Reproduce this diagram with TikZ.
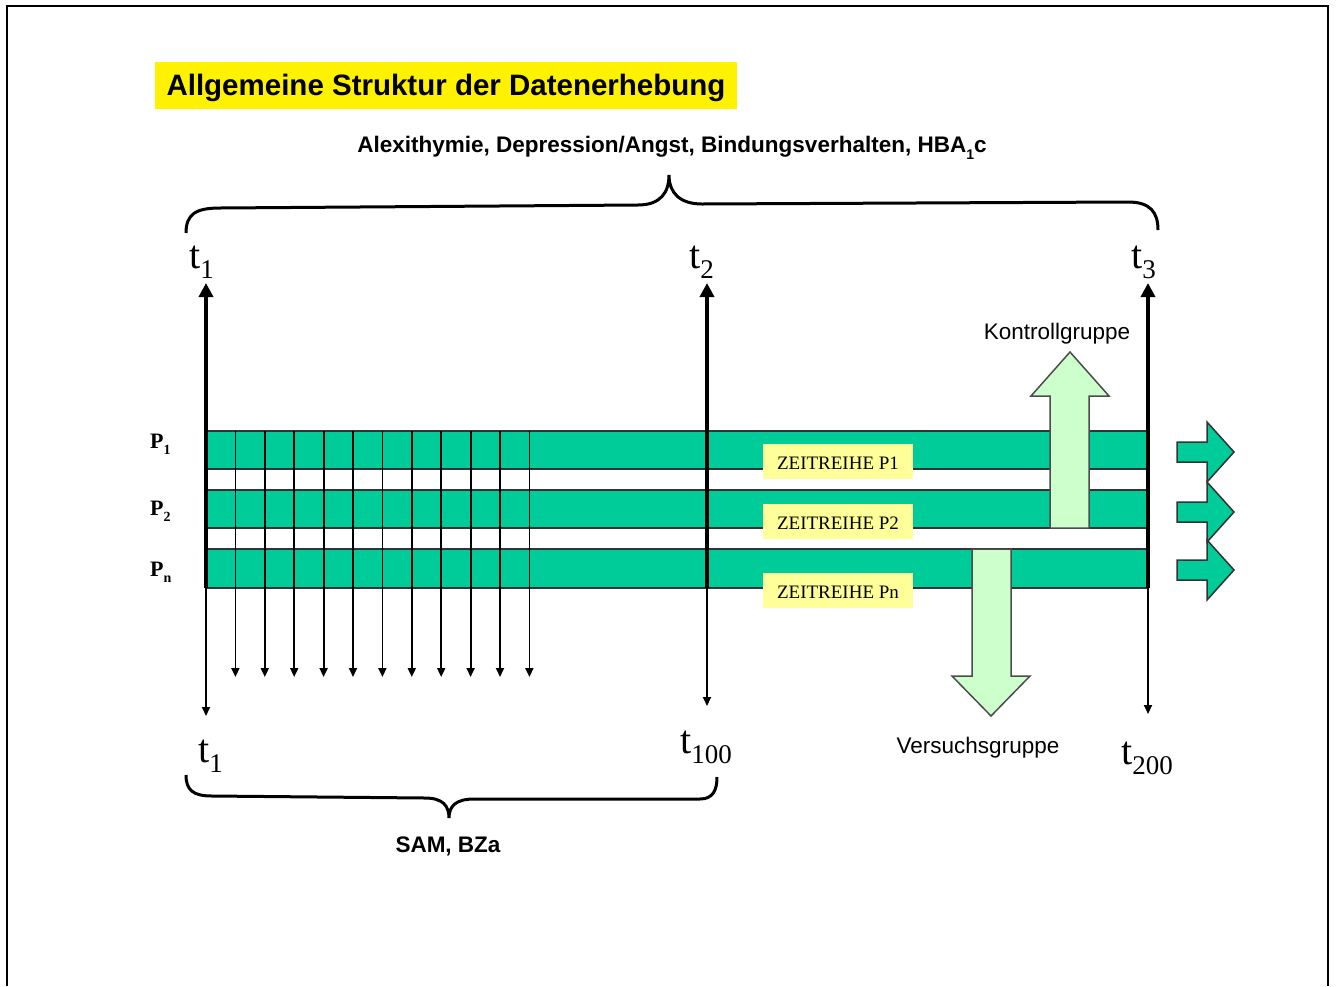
\documentclass[tikz,border=0pt]{standalone}
\usepackage{fontspec}
\setmainfont{Liberation Serif}
\setsansfont{Liberation Sans}
\usetikzlibrary{arrows.meta, positioning}

\definecolor{zeitgruen}{RGB}{0,204,153}
\definecolor{hellgelb}{RGB}{255,255,153}
\definecolor{hellgruen}{RGB}{204,255,204}

% t mit grossem Index
\newcommand{\tzeit}[1]{t\raisebox{-0.25em}{\fontsize{27}{27}\selectfont #1}}
\newcommand{\pzeile}[1]{P\raisebox{-0.3em}{\fontsize{14}{14}\selectfont #1}}

\begin{document}
\begin{tikzpicture}[
        x=1pt, y=-1pt,
        titel/.style={
            fill=yellow,
            font=\sffamily\bfseries\fontsize{29.5}{31}\selectfont,
            minimum width=582pt, minimum height=47pt,
            text depth=0pt,
            inner sep=0pt
        },
        merkmal/.style={
            font=\sffamily\bfseries\fontsize{22.5}{25}\selectfont,
            inner sep=0pt
        },
        gruppe/.style={
            font=\sffamily\fontsize{22.5}{25}\selectfont,
            inner sep=0pt
        },
        zeitlabel/.style={
            font=\fontsize{40}{42}\selectfont,
            anchor=base west, inner sep=0pt
        },
        personlabel/.style={
            font=\bfseries\fontsize{22}{24}\selectfont,
            anchor=base west, inner sep=0pt
        },
        reihe/.style={
            fill=hellgelb,
            font=\fontsize{19}{21}\selectfont,
            minimum width=150pt, minimum height=35pt,
            text height=17pt, text depth=0pt,
            inner sep=0pt
        },
        balken/.style={
            fill=zeitgruen,
            draw=black!80,
            line width=1.5pt
        },
        achse/.style={
            -{Triangle[width=14pt,length=14pt]},
            line width=4.5pt
        },
        messpfeil/.style={
            -{Triangle[width=8pt,length=9pt]},
            line width=1.8pt
        },
        blockpfeil/.style={
            fill=hellgruen,
            draw=black!70,
            line width=1.5pt
        },
        weiterpfeil/.style={
            fill=zeitgruen,
            draw=black!80,
            line width=1.5pt
        },
        klammer/.style={
            line width=3pt
        }
    ]

    \useasboundingbox (0,0) rectangle (1336,986);
    \draw[line width=2pt] (7,986) -- (7,6) -- (1328,6) -- (1328,986);

    \node[titel] (titel) at (446,85) {Allgemeine Struktur der Datenerhebung};
    \node[merkmal] (merkmale) at (672,148)
        {Alexithymie, Depression/Angst, Bindungsverhalten, HBA\raisebox{-0.3em}{\fontsize{14}{14}\selectfont 1}c};

    % obere Klammer
    \draw[klammer] (186,233) .. controls (186,214) and (196,208) .. (220,208)
        -- (638,205) .. controls (660,205) and (669,193) .. (669,175)
        .. controls (669,193) and (680,204) .. (702,204)
        -- (1128,202) .. controls (1150,202) and (1158,212) .. (1158,230);

    % Zeitreihen-Balken
    \draw[balken] (206,431) rectangle (1147,469);
    \draw[balken] (206,490) rectangle (1147,528);
    \draw[balken] (206,549) rectangle (1147,588);

    \node[personlabel] (p1) at (150,448) {\pzeile{1}};
    \node[personlabel] (p2) at (150,515) {\pzeile{2}};
    \node[personlabel] (pn) at (150,576) {\pzeile{n}};

    % Messzeitpunkte
    \foreach \i in {1,...,11}
        \draw[messpfeil] ({206+\i*29.4},431) -- ({206+\i*29.4},677);

    \coordinate (a1) at (206,588);
    \coordinate (a2) at (707,588);
    \coordinate (a3) at (1148,588);
    \coordinate (a1o) at (206,283);
    \coordinate (a2o) at (707,283);
    \coordinate (a3o) at (1148,283);
    \coordinate (a1u) at (206,716);
    \coordinate (a2u) at (707,706);
    \coordinate (a3u) at (1148,714);

    \draw[achse] (a1) -- (a1o);
    \draw[achse] (a2) -- (a2o);
    \draw[achse] (a3) -- (a3o);
    \draw[messpfeil] (a1) -- (a1u);
    \draw[messpfeil] (a2) -- (a2u);
    \draw[messpfeil] (a3) -- (a3u);

    \node[zeitlabel] (t1oben) at (189,268) {\tzeit{1}};
    \node[zeitlabel] (t2oben) at (689,268) {\tzeit{2}};
    \node[zeitlabel] (t3oben) at (1131,268) {\tzeit{3}};
    \node[zeitlabel] (t1unten) at (198,762) {\tzeit{1}};
    \node[zeitlabel] (t100unten) at (680,753) {\tzeit{100}};
    \node[zeitlabel] (t200unten) at (1121,764) {\tzeit{200}};

    \node[reihe] (zr1) at (838,461) {ZEITREIHE P1};
    \node[reihe] (zr2) at (838,521) {ZEITREIHE P2};
    \node[reihe] (zrn) at (838,590) {ZEITREIHE Pn};

    % Gruppenpfeile
    \draw[blockpfeil] (1050,528) -- (1050,396) -- (1031,396) -- (1070,352)
        -- (1109,396) -- (1089,396) -- (1089,528) -- cycle;
    \draw[blockpfeil] (972,549) -- (972,676) -- (952,676) -- (991,716)
        -- (1030,676) -- (1011,676) -- (1011,549) -- cycle;

    \node[gruppe] (kontroll) at (1057,334) {Kontrollgruppe};
    \node[gruppe] (versuch) at (978,748) {Versuchsgruppe};

    % Fortsetzung der Zeitreihen
    \foreach \y in {452,512,570}
        \draw[weiterpfeil] (1177,\y-10) -- (1207,\y-10) -- (1207,\y-30)
            -- (1234,\y) -- (1207,\y+30) -- (1207,\y+10) -- (1177,\y+10) -- cycle;

    % untere Klammer
    \draw[klammer] (186,775) .. controls (186,790) and (193,796) .. (212,796)
        -- (425,798) .. controls (443,798) and (449,806) .. (449,818)
        .. controls (449,806) and (456,799) .. (474,799)
        -- (700,799) .. controls (713,799) and (717,790) .. (717,777);

    \node[merkmal] (samlabel) at (448,846) {SAM, BZa};

\end{tikzpicture}
\end{document}
